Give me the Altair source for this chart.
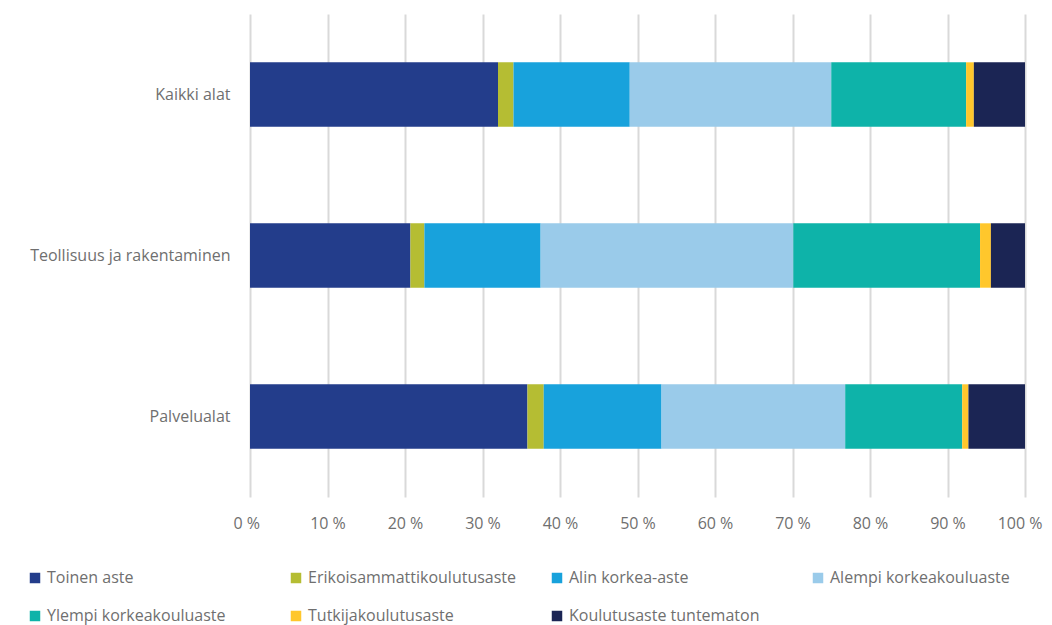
import altair as alt
import pandas as pd

groups = ["Kaikki alat", "Teollisuus ja rakentaminen", "Palvelualat"]
levels = ["Toinen aste", "Erikoisammattikoulutusaste", "Alin korkea-aste",
          "Alempi korkeakouluaste", "Ylempi korkeakouluaste",
          "Tutkijakoulutusaste", "Koulutusaste tuntematon"]
colors = ["#233D8B", "#B5BD33", "#18A2DC", "#9ACBEA", "#0EB3A9", "#FFC72C", "#1B2554"]

kaikki = [32.0, 2.0, 15.0, 26.0, 17.4, 1.0, 6.6]
teollisuus = [20.7, 1.8, 15.0, 32.6, 24.1, 1.4, 4.4]
palvelu = [35.8, 2.1, 15.2, 23.7, 15.1, 0.8, 7.3]
ticks = [0, 10, 20, 30, 40, 50, 60, 70, 80, 90, 100]

rows = []
for g, vals in zip(groups, [kaikki, teollisuus, palvelu]):
    for i, (lv, v) in enumerate(zip(levels, vals)):
        rows.append({"ryhma": g, "aste": lv, "idx": i, "osuus": v})
df = pd.DataFrame(rows)

FONT = "Open Sans, sans-serif"
TXT = "#6f6f6f"

chart = alt.Chart(df).mark_bar().encode(
    y=alt.Y("ryhma:N", sort=groups, title=None,
            scale=alt.Scale(paddingInner=0.6, paddingOuter=0.3),
            axis=alt.Axis(domain=False, ticks=False, grid=False, labelPadding=20,
                          labelFontSize=16, labelColor=TXT, labelFont=FONT,
                          labelLimit=400)),
    x=alt.X("osuus:Q", stack="zero", title=None,
            scale=alt.Scale(domain=[0, 100], nice=False),
            axis=alt.Axis(values=ticks, labelExpr="datum.value + ' %'", domain=False,
                          ticks=False, grid=True, gridColor="#d9d9d9", gridWidth=2,
                          labelFlush=True, labelFlushOffset=17, labelOverlap=False,
                          labelPadding=18, labelFontSize=16, labelColor=TXT,
                          labelFont=FONT)),
    color=alt.Color("aste:N", sort=levels,
                    scale=alt.Scale(domain=levels, range=colors),
                    legend=alt.Legend(title=None, orient="none", legendX=-223, legendY=556,
                                      direction="horizontal", columns=4,
                                      symbolType="square", symbolSize=110,
                                      symbolStrokeWidth=0, labelFontSize=16,
                                      labelColor=TXT, labelFont=FONT, labelLimit=400,
                                      columnPadding=32, rowPadding=22, labelOffset=4,
                                      gridAlign="all")),
    order=alt.Order("idx:Q", sort="ascending"),
).properties(
    width=775, height=483,
    autosize=alt.AutoSizeParams(type="none"),
    padding={"left": 242, "top": 6, "right": 19, "bottom": 150},
).configure_view(stroke=None)

chart.save("out.html", embed_options={"renderer": "svg", "actions": False})
